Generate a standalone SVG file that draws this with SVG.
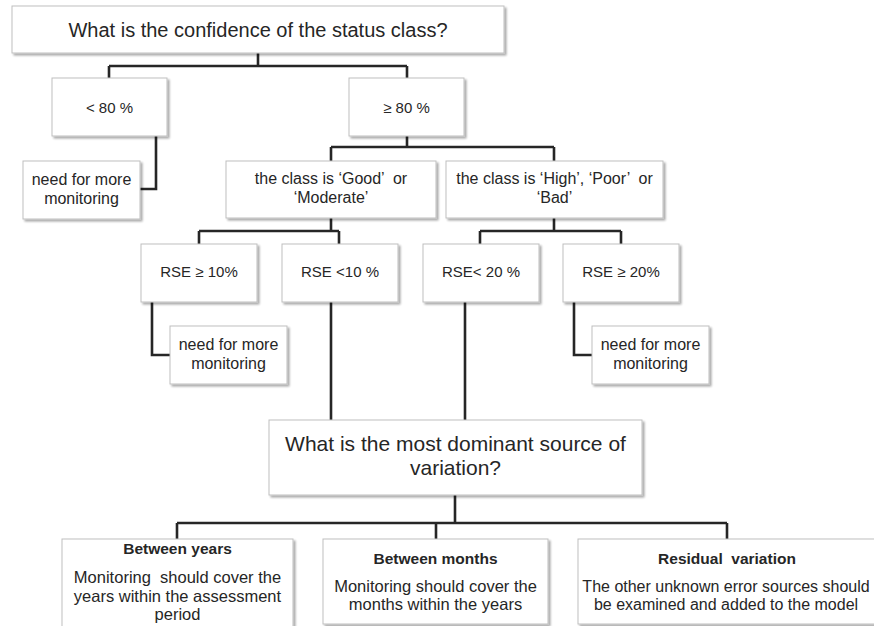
<svg xmlns="http://www.w3.org/2000/svg" width="874" height="626" viewBox="0 0 874 626">
  <defs>
    <filter id="shadow" x="-5%" y="-10%" width="115%" height="130%">
      <feGaussianBlur in="SourceAlpha" stdDeviation="1"/>
      <feOffset dx="1.5" dy="2" result="off"/>
      <feComponentTransfer><feFuncA type="linear" slope="0.35"/></feComponentTransfer>
      <feMerge><feMergeNode/><feMergeNode in="SourceGraphic"/></feMerge>
    </filter>
  </defs>
  <style>
    .box { fill: #ffffff; stroke: #bfbfbf; stroke-width: 1; filter: url(#shadow); }
    .lnk { fill: none; stroke: #262626; stroke-width: 2.6; stroke-linejoin: miter; }
    text { font-family: "Liberation Sans", Arial, sans-serif; fill: #262626; text-anchor: middle; white-space: pre; }
    .big { font-size: 20px; }
    .big2 { font-size: 21px; }
    .mid { font-size: 16px; }
    .sm { font-size: 15px; }
    .low { font-size: 16.5px; }
    .bold { font-size: 15.5px; font-weight: bold; }
  </style>

  <rect width="874" height="626" fill="#ffffff"/>

  <!-- connectors -->
  <g id="connectors">
    <path class="lnk" d="M258,53 V66 M109,66 H407 M109,66 V78 M407,66 V78"/>
    <path class="lnk" d="M156,136 V189 H140"/>
    <path class="lnk" d="M407,136 V147 M331,147 H554 M331,147 V161 M554,147 V161"/>
    <path class="lnk" d="M331,218 V231 M199,231 H339 M199,231 V244 M339,231 V244"/>
    <path class="lnk" d="M554,218 V231 M480,231 H621 M480,231 V244 M621,231 V244"/>
    <path class="lnk" d="M152,302 V355 H170"/>
    <path class="lnk" d="M574,302 V355 H592"/>
    <path class="lnk" d="M331,302 V420 M465,302 V420"/>
    <path class="lnk" d="M455,495 V523 M177,523 H727 M177,523 V539 M436,523 V539 M727,523 V539"/>
  </g>

  <g id="q-confidence">
    <rect class="box" x="12" y="6" width="492" height="47"/>
    <text class="big" x="258" y="37">What is the confidence of the status class?</text>
  </g>

  <g id="lt80">
    <rect class="box" x="52" y="78" width="115" height="58"/>
    <text class="sm" x="109.5" y="113">&lt; 80 %</text>
  </g>

  <g id="ge80">
    <rect class="box" x="349" y="78" width="115" height="58"/>
    <text class="sm" x="406.5" y="113">≥ 80 %</text>
  </g>

  <g id="monitor-1">
    <rect class="box" x="23" y="161" width="117" height="58"/>
    <text class="mid" x="81.5" y="185">need for more</text>
    <text class="mid" x="81.5" y="204">monitoring</text>
  </g>

  <g id="good-moderate">
    <rect class="box" x="226" y="161" width="210" height="57"/>
    <text class="mid" x="331" y="184">the class is ‘Good’  or</text>
    <text class="mid" x="331" y="203">‘Moderate’</text>
  </g>

  <g id="high-poor-bad">
    <rect class="box" x="446" y="161" width="217" height="57"/>
    <text class="mid" x="554.5" y="184">the class is ‘High’, ‘Poor’  or</text>
    <text class="mid" x="554.5" y="203">‘Bad’</text>
  </g>

  <g id="rse-ge10">
    <rect class="box" x="141" y="244" width="116" height="58"/>
    <text class="sm" x="199" y="277">RSE ≥ 10%</text>
  </g>

  <g id="rse-lt10">
    <rect class="box" x="282" y="244" width="116" height="58"/>
    <text class="sm" x="340" y="277">RSE &lt;10 %</text>
  </g>

  <g id="rse-lt20">
    <rect class="box" x="423" y="244" width="116" height="58"/>
    <text class="sm" x="481" y="277">RSE&lt; 20 %</text>
  </g>

  <g id="rse-ge20">
    <rect class="box" x="563" y="244" width="116" height="58"/>
    <text class="sm" x="621" y="277">RSE ≥ 20%</text>
  </g>

  <g id="monitor-2">
    <rect class="box" x="170" y="326" width="117" height="58"/>
    <text class="mid" x="228.5" y="350">need for more</text>
    <text class="mid" x="228.5" y="369">monitoring</text>
  </g>

  <g id="monitor-3">
    <rect class="box" x="592" y="326" width="117" height="58"/>
    <text class="mid" x="650.5" y="350">need for more</text>
    <text class="mid" x="650.5" y="369">monitoring</text>
  </g>

  <g id="q-variation">
    <rect class="box" x="269" y="420" width="373" height="75"/>
    <text class="big2" x="455.5" y="451">What is the most dominant source of</text>
    <text class="big2" x="455.5" y="475">variation?</text>
  </g>

  <g id="between-years">
    <rect class="box" x="62" y="539" width="231" height="95"/>
    <text class="bold" x="177.5" y="554">Between years</text>
    <text class="low" x="177.5" y="583">Monitoring  should cover the</text>
    <text class="low" x="177.5" y="602">years within the assessment</text>
    <text class="low" x="177.5" y="620">period</text>
  </g>

  <g id="between-months">
    <rect class="box" x="323" y="539" width="225" height="85"/>
    <text class="bold" x="435.5" y="564">Between months</text>
    <text class="low" x="435.5" y="592">Monitoring should cover the</text>
    <text class="low" x="435.5" y="610">months within the years</text>
  </g>

  <g id="residual">
    <rect class="box" x="578" y="539" width="298" height="85"/>
    <text class="bold" x="727" y="564">Residual  variation</text>
    <text class="mid" x="726" y="592">The other unknown error sources should</text>
    <text class="mid" x="726" y="610">be examined and added to the model</text>
  </g>
</svg>
